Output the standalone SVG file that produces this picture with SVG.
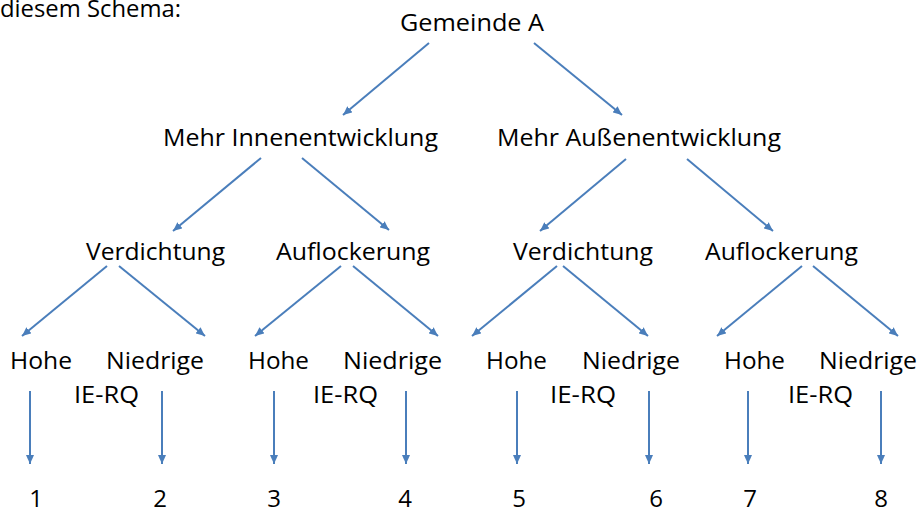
<svg xmlns="http://www.w3.org/2000/svg" width="922" height="512" viewBox="0 0 922 512">
<style>
text{font-family:"Open Sans","Noto Sans","DejaVu Sans",sans-serif;font-size:24px;fill:#000}
.c line{stroke:#4a7ebb;stroke-width:2;marker-end:url(#ah)}
</style>
<defs>
<marker id="ah" markerUnits="userSpaceOnUse" markerWidth="9" markerHeight="8" viewBox="0 0 9 8" refX="9" refY="4" orient="auto">
<path d="M0,0 L9,4 L0,8 z" fill="#4a7ebb"/>
</marker>
</defs>
<rect width="922" height="512" fill="#fff"/>
<text x="0" y="17" textLength="181" lengthAdjust="spacingAndGlyphs">diesem Schema:</text>
<g id="root"><text x="400" y="31" textLength="144" lengthAdjust="spacingAndGlyphs">Gemeinde A</text></g>
<g id="innen"><text x="163" y="146" textLength="275" lengthAdjust="spacingAndGlyphs">Mehr Innenentwicklung</text></g>
<g id="aussen"><text x="497" y="146" textLength="284" lengthAdjust="spacingAndGlyphs">Mehr Außenentwicklung</text></g>
<g id="verd1"><text x="86" y="260" textLength="139" lengthAdjust="spacingAndGlyphs">Verdichtung</text></g>
<g id="aufl1"><text x="276" y="260" textLength="154" lengthAdjust="spacingAndGlyphs">Auflockerung</text></g>
<g id="verd2"><text x="513" y="260" textLength="140" lengthAdjust="spacingAndGlyphs">Verdichtung</text></g>
<g id="aufl2"><text x="705" y="260" textLength="153" lengthAdjust="spacingAndGlyphs">Auflockerung</text></g>
<g id="h1"><text x="10" y="369" textLength="62" lengthAdjust="spacingAndGlyphs">Hohe</text></g>
<g id="n1"><text x="106" y="369" textLength="98" lengthAdjust="spacingAndGlyphs">Niedrige</text></g>
<g id="q1"><text x="74" y="403" textLength="65" lengthAdjust="spacingAndGlyphs">IE-RQ</text></g>
<g id="h2"><text x="248" y="369" textLength="61" lengthAdjust="spacingAndGlyphs">Hohe</text></g>
<g id="n2"><text x="343" y="369" textLength="99" lengthAdjust="spacingAndGlyphs">Niedrige</text></g>
<g id="q2"><text x="313" y="403" textLength="65" lengthAdjust="spacingAndGlyphs">IE-RQ</text></g>
<g id="h3"><text x="486" y="369" textLength="61" lengthAdjust="spacingAndGlyphs">Hohe</text></g>
<g id="n3"><text x="582" y="369" textLength="98" lengthAdjust="spacingAndGlyphs">Niedrige</text></g>
<g id="q3"><text x="550" y="403" textLength="66" lengthAdjust="spacingAndGlyphs">IE-RQ</text></g>
<g id="h4"><text x="724" y="369" textLength="61" lengthAdjust="spacingAndGlyphs">Hohe</text></g>
<g id="n4"><text x="819" y="369" textLength="98" lengthAdjust="spacingAndGlyphs">Niedrige</text></g>
<g id="q4"><text x="788" y="403" textLength="65" lengthAdjust="spacingAndGlyphs">IE-RQ</text></g>
<g id="r1"><text x="36" y="507" text-anchor="middle">1</text></g>
<g id="r2"><text x="160" y="507" text-anchor="middle">2</text></g>
<g id="r3"><text x="274" y="507" text-anchor="middle">3</text></g>
<g id="r4"><text x="405" y="507" text-anchor="middle">4</text></g>
<g id="r5"><text x="519" y="507" text-anchor="middle">5</text></g>
<g id="r6"><text x="656" y="507" text-anchor="middle">6</text></g>
<g id="r7"><text x="750" y="507" text-anchor="middle">7</text></g>
<g id="r8"><text x="881" y="507" text-anchor="middle">8</text></g>
<g id="connectors" class="c">
<line x1="429" y1="43" x2="343" y2="115"/>
<line x1="534" y1="43" x2="622" y2="115"/>
<line x1="261" y1="158" x2="173" y2="231"/>
<line x1="302" y1="158" x2="389" y2="230"/>
<line x1="626" y1="159" x2="540" y2="231"/>
<line x1="687" y1="159" x2="773" y2="231"/>
<line x1="107" y1="266" x2="22" y2="336"/>
<line x1="119" y1="266" x2="205" y2="336"/>
<line x1="341" y1="266" x2="255" y2="336"/>
<line x1="353" y1="266" x2="438" y2="336"/>
<line x1="557" y1="266" x2="472" y2="336"/>
<line x1="563" y1="266" x2="648" y2="336"/>
<line x1="802" y1="266" x2="717" y2="336"/>
<line x1="813" y1="266" x2="898" y2="336"/>
<line x1="30" y1="391" x2="30" y2="464"/>
<line x1="162" y1="391" x2="162" y2="464"/>
<line x1="274" y1="391" x2="274" y2="464"/>
<line x1="406" y1="391" x2="406" y2="464"/>
<line x1="517" y1="391" x2="517" y2="464"/>
<line x1="649" y1="391" x2="649" y2="464"/>
<line x1="748" y1="391" x2="748" y2="464"/>
<line x1="881" y1="391" x2="881" y2="464"/>
</g>
</svg>
